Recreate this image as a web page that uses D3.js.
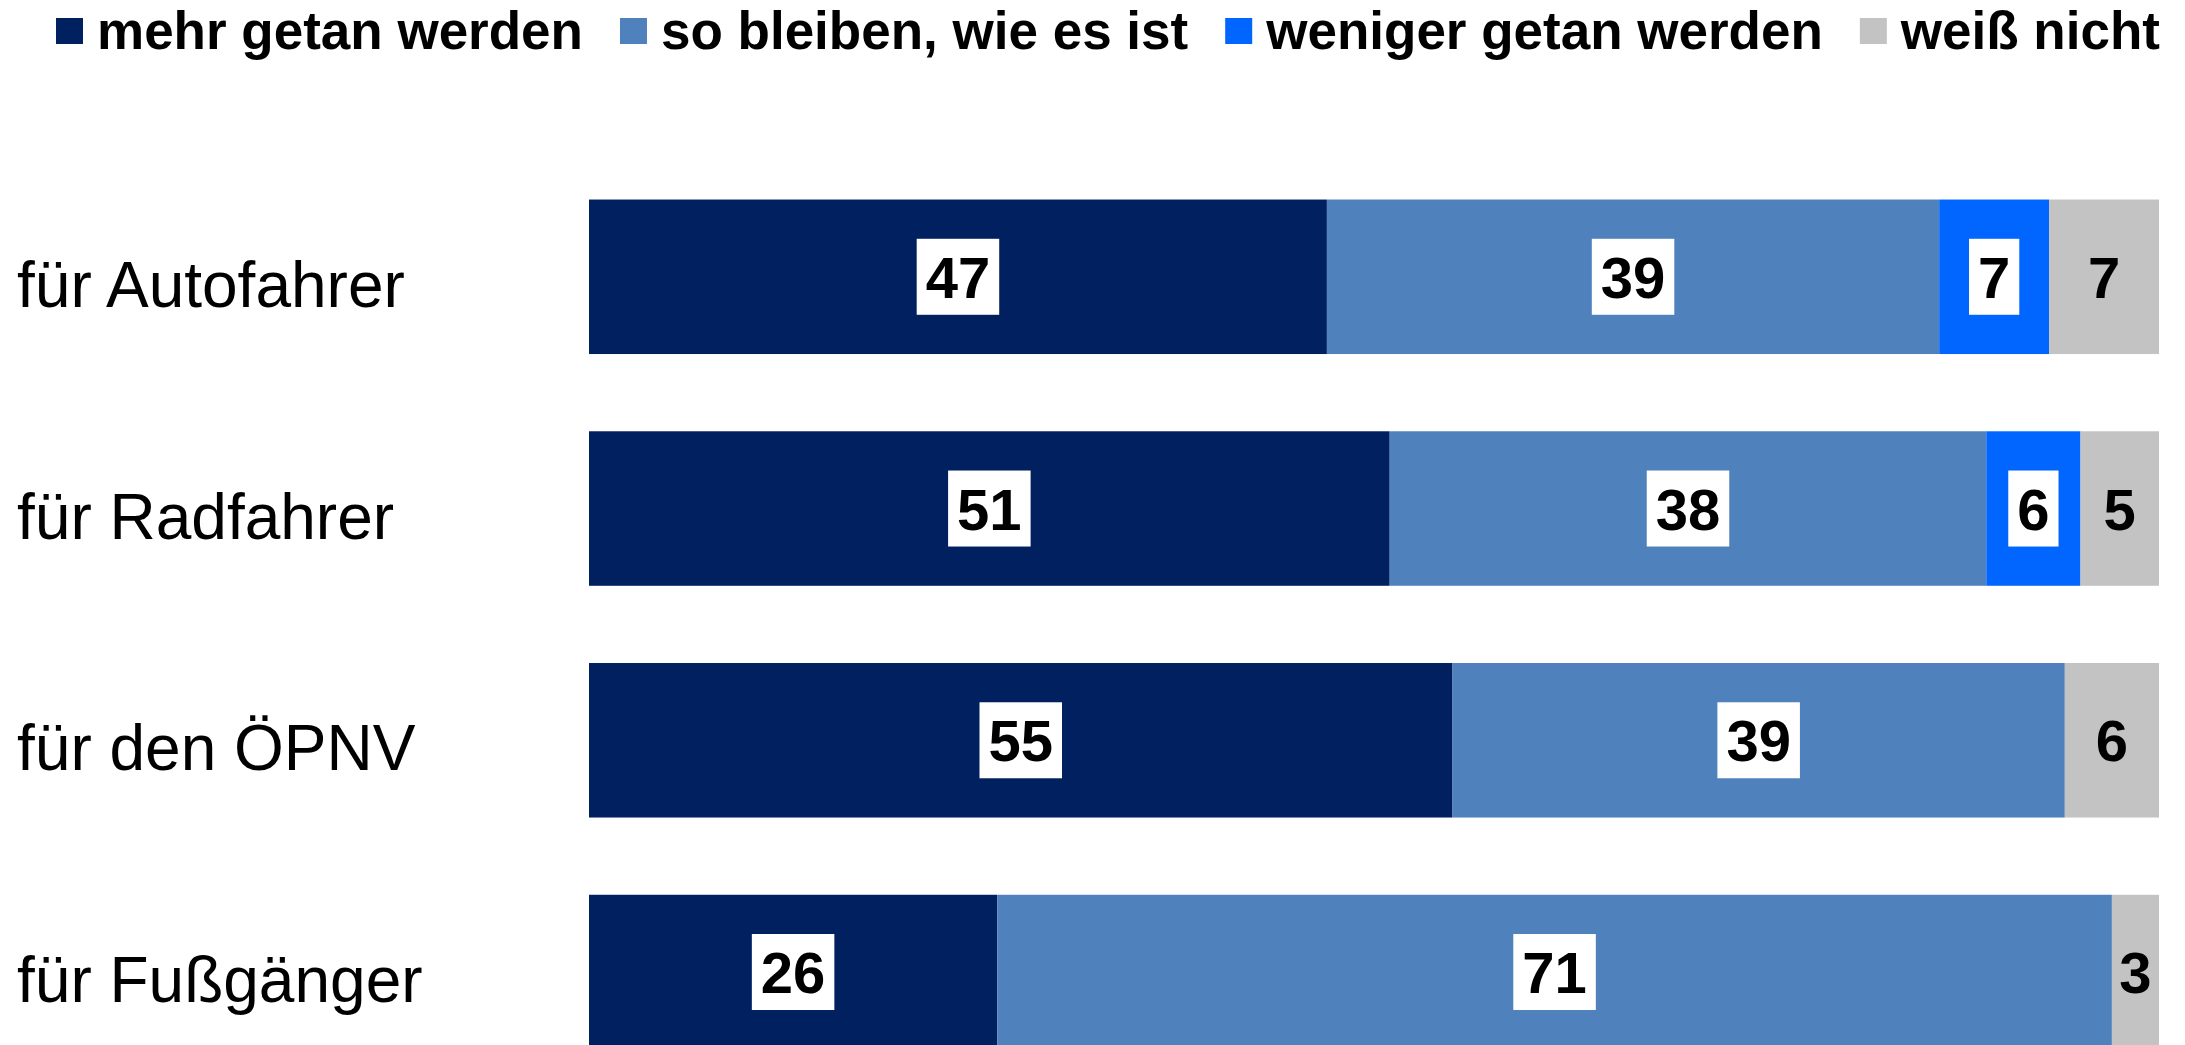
<!DOCTYPE html>
<html>
<head>
<meta charset="utf-8">
<script src="https://cdn.jsdelivr.net/npm/d3@7"></script>
<style>
  body { margin: 0; background: #fff; overflow: hidden; }
  svg { display: block; font-family: "Liberation Sans", Arial, sans-serif; }
</style>
</head>
<body>
<div id="chart"></div>
<script>
const WIDTH = 2185
const HEIGHT = 1045

// data
const categories = ["für Autofahrer", "für Radfahrer", "für den ÖPNV", "für Fußgänger"]
const seriesNames = ["mehr getan werden", "so bleiben, wie es ist", "weniger getan werden", "weiß nicht"]
const mehr = [47, 51, 55, 26]
const bleiben = [39, 38, 39, 71]
const weniger = [7, 6, 0, 0]
const weissNicht = [7, 5, 6, 3]
const colors = ["#002060", "#4f81bd", "#0066ff", "#c3c3c3"]

const rows = categories.map((c, i) => ({
    cat: c,
    "mehr getan werden": mehr[i],
    "so bleiben, wie es ist": bleiben[i],
    "weniger getan werden": weniger[i],
    "weiß nicht": weissNicht[i]
}))

const svg = d3.select("#chart").append("svg")
    .attr("width", WIDTH)
    .attr("height", HEIGHT)

const x = d3.scaleLinear().domain([0, 100]).range([589, 2159])
const y = d3.scaleBand()
    .domain(categories)
    .range([160.9, 1087.9])
    .paddingInner(0.3333)
    .paddingOuter(0.1667)

const color = d3.scaleOrdinal().domain(seriesNames).range(colors)

const stacked = d3.stack().keys(seriesNames)(rows)

// bars
const layers = svg.append("g")
    .selectAll("g")
    .data(stacked)
    .join("g")
    .attr("fill", d => color(d.key))

layers.selectAll("rect")
    .data(d => d.map(s => ({ s, key: d.key })))
    .join("rect")
    .attr("x", d => x(d.s[0]))
    .attr("y", d => y(d.s.data.cat))
    .attr("width", d => x(d.s[1]) - x(d.s[0]))
    .attr("height", y.bandwidth())

// value labels
const labels = svg.append("g")
    .attr("font-size", 58)
    .attr("font-weight", "bold")
    .attr("text-anchor", "middle")

stacked.forEach(layer => {
    layer.forEach(s => {
        const v = s[1] - s[0]
        if (v <= 0) return
        const cx = (x(s[0]) + x(s[1])) / 2
        const cy = y(s.data.cat) + y.bandwidth() / 2
        const g = labels.append("g")
        const t = g.append("text")
            .attr("x", cx)
            .attr("y", cy + 21)
            .attr("fill", "#000")
            .text(v)
        if (layer.key !== "weiß nicht") {
            const w = t.node().getComputedTextLength()
            g.insert("rect", "text")
                .attr("x", cx - w / 2 - 9)
                .attr("y", cy - 38)
                .attr("width", w + 18)
                .attr("height", 76)
                .attr("fill", "#fff")
        }
    })
})

// category labels
svg.append("g")
    .selectAll("text")
    .data(categories)
    .join("text")
    .attr("x", 17)
    .attr("y", d => y(d) + y.bandwidth() / 2 + 30)
    .attr("font-size", 64)
    .attr("fill", "#000")
    .text(d => d)

// legend
const legend = svg.append("g")
let lx = 56
seriesNames.forEach(name => {
    legend.append("rect")
        .attr("x", lx)
        .attr("y", 18)
        .attr("width", 27)
        .attr("height", 26)
        .attr("fill", color(name))
    const t = legend.append("text")
        .attr("x", lx + 41)
        .attr("y", 49)
        .attr("font-size", 53)
        .attr("font-weight", "bold")
        .attr("fill", "#000")
        .text(name)
    lx += 41 + t.node().getComputedTextLength() + 37
})
</script>
</body>
</html>
